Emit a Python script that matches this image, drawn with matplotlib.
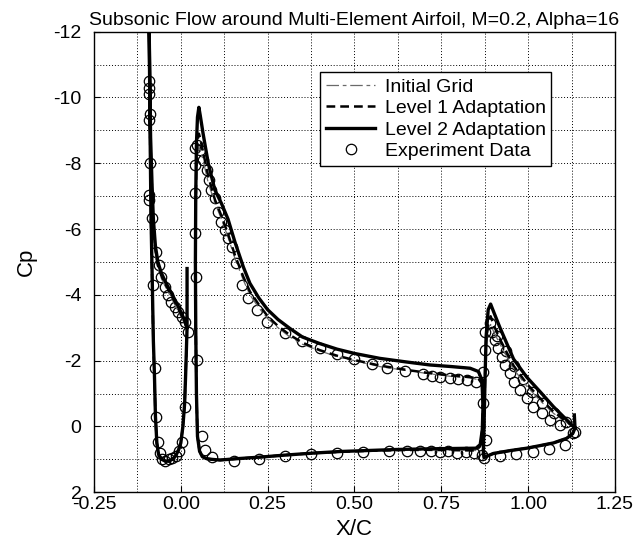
import numpy as np
import matplotlib
matplotlib.use("Agg")
import matplotlib.pyplot as plt
from matplotlib.ticker import MultipleLocator, FormatStrFormatter
from matplotlib.legend_handler import HandlerLine2D

plt.rcParams['font.family'] = 'Liberation Sans'
plt.rcParams['axes.unicode_minus'] = False

# ---- CFD results (X/C, Cp) ----
# slat
slat_x_l2 = [0.018, 0.018, 0.012, 0.002, -0.012, -0.027, -0.042, -0.056, -0.066, -0.073,
             -0.079, -0.083, -0.087, -0.089, -0.091, -0.092, -0.091, -0.089, -0.086, -0.082,
             -0.079, -0.076, -0.073, -0.069, -0.064, -0.055, -0.045, -0.035, -0.025, -0.015,
             -0.006, 0.000, 0.006, 0.011, 0.014, 0.016, 0.018]
slat_cp_l2 = [-4.8, -3.0, -3.2, -3.44, -3.75, -4.05, -4.35, -4.66, -5.0, -5.47,
              -6.3, -7.4, -8.8, -10.3, -12.0, -13.5, -12.0, -9.5, -6.5, -4.3,
              -2.6, -1.6, -0.3, 0.5, 0.85, 1.0, 1.05, 1.05, 1.0, 0.9,
              0.7, 0.5, 0.0, -0.7, -1.6, -2.3, -3.0]
slat_x_l1 = [0.018, 0.012, 0.002, -0.012, -0.027, -0.042, -0.056, -0.066, -0.073, -0.079,
             -0.083, -0.087, -0.089, -0.091, -0.092, -0.091, -0.089, -0.086, -0.082, -0.079,
             -0.076, -0.073, -0.069, -0.064, -0.055, -0.045, -0.035, -0.025, -0.015, -0.006,
             0.000, 0.006, 0.011, 0.014, 0.016, 0.018]
slat_cp_l1 = [-2.95, -3.15, -3.38, -3.68, -3.98, -4.28, -4.58, -4.9, -5.35, -6.1,
              -7.2, -8.5, -10.0, -11.8, -13.2, -11.8, -9.3, -6.3, -4.2, -2.5,
              -1.5, -0.3, 0.5, 0.85, 1.0, 1.05, 1.05, 1.0, 0.9, 0.7,
              0.5, 0.0, -0.7, -1.6, -2.3, -2.95]
slat_cp_ini = [-2.9, -3.1, -3.3, -3.6, -3.9, -4.2, -4.5, -4.8, -5.2, -5.9,
               -7.0, -8.3, -9.8, -11.5, -12.8, -11.5, -9.0, -6.1, -4.0, -2.4,
               -1.4, -0.2, 0.5, 0.85, 1.0, 1.05, 1.05, 1.0, 0.9, 0.7,
               0.5, 0.0, -0.7, -1.5, -2.2, -2.9]

# main element
main_x = [0.870, 0.867, 0.857, 0.833, 0.780, 0.717, 0.650, 0.573, 0.500, 0.450,
          0.400, 0.350, 0.314, 0.280, 0.250, 0.225, 0.199, 0.180, 0.156, 0.136,
          0.117, 0.098, 0.079, 0.064, 0.056, 0.052, 0.048, 0.045, 0.043, 0.042,
          0.043, 0.045, 0.048, 0.054, 0.062, 0.075, 0.090, 0.113, 0.160, 0.230,
          0.300, 0.380, 0.460, 0.540, 0.620, 0.710, 0.780, 0.850, 0.862, 0.868,
          0.870]
main_cp_l2 = [-0.6, -1.41, -1.67, -1.77, -1.82, -1.87, -1.96, -2.07, -2.22, -2.35,
              -2.52, -2.72, -2.98, -3.25, -3.55, -3.9, -4.35, -4.85, -5.6, -6.3,
              -6.78, -7.19, -8.0, -8.91, -9.45, -9.7, -9.4, -8.6, -7.0, -5.0,
              -3.0, -1.0, 0.3, 0.75, 0.92, 0.98, 1.0, 1.02, 0.98, 0.93,
              0.87, 0.81, 0.76, 0.73, 0.70, 0.68, 0.67, 0.66, 0.55, 0.1,
              -0.6]
main_cp_l1 = [-0.8, -1.3, -1.45, -1.5, -1.55, -1.62, -1.72, -1.85, -2.02, -2.15,
              -2.32, -2.55, -2.78, -3.05, -3.35, -3.7, -4.1, -4.55, -5.2, -5.85,
              -6.4, -6.9, -7.6, -8.35, -8.75, -8.9, -8.7, -8.1, -6.8, -5.0,
              -3.0, -1.0, 0.3, 0.75, 0.92, 0.98, 1.0, 1.02, 0.98, 0.93,
              0.87, 0.81, 0.77, 0.74, 0.72, 0.71, 0.72, 0.73, 0.6, 0.1,
              -0.8]
main_cp_ini = [-0.8, -1.3, -1.42, -1.48, -1.52, -1.6, -1.7, -1.82, -2.0, -2.12,
               -2.3, -2.5, -2.72, -3.0, -3.28, -3.6, -4.0, -4.45, -5.1, -5.75,
               -6.3, -6.8, -7.4, -8.1, -8.4, -8.5, -8.3, -7.8, -6.5, -4.8,
               -2.9, -1.0, 0.3, 0.75, 0.92, 0.98, 1.0, 1.02, 0.98, 0.93,
               0.87, 0.81, 0.77, 0.74, 0.72, 0.71, 0.72, 0.73, 0.6, 0.1,
               -0.8]

# flap
flap_x_l2 = [1.133, 1.135, 1.111, 1.073, 1.035, 0.996, 0.958, 0.919, 0.902, 0.892,
             0.885, 0.879, 0.876, 0.873, 0.871, 0.873, 0.882, 0.900, 0.950, 0.996,
             1.035, 1.073, 1.111, 1.128, 1.135]
flap_cp_l2 = [-0.35, 0.05, -0.2, -0.6, -1.05, -1.5, -2.05, -3.0, -3.45, -3.72,
              -3.55, -2.73, -1.5, 0.0, 0.75, 0.95, 0.9, 0.82, 0.73, 0.66,
              0.58, 0.5, 0.36, 0.22, 0.05]
flap_x_l1 = [1.135, 1.111, 1.073, 1.035, 0.996, 0.958, 0.919, 0.902, 0.892, 0.885,
             0.879, 0.876, 0.873, 0.871, 0.873, 0.882, 0.900, 0.950, 0.996, 1.035,
             1.073, 1.111, 1.128, 1.135]
flap_cp_l1 = [0.05, -0.15, -0.45, -0.85, -1.3, -1.85, -2.65, -3.05, -3.35, -3.2,
              -2.6, -1.5, 0.0, 0.75, 0.95, 0.9, 0.82, 0.73, 0.66, 0.58,
              0.5, 0.36, 0.22, 0.05]
flap_cp_ini = [0.05, -0.12, -0.4, -0.78, -1.22, -1.75, -2.5, -2.85, -3.1, -3.0,
               -2.5, -1.5, 0.0, 0.75, 0.95, 0.9, 0.82, 0.73, 0.66, 0.58,
               0.5, 0.36, 0.22, 0.05]

# ---- experiment ----
exp_slat_x = [-0.092, -0.092, -0.091, -0.090, -0.091, -0.090, -0.091, -0.092, -0.084, -0.080,
              -0.070, -0.063, -0.056, -0.046, -0.036, -0.027, -0.017, -0.007, 0.003, 0.012,
              0.020, -0.075, -0.070, -0.065, -0.060, -0.055, -0.045, -0.035, -0.025, -0.015,
              -0.005, 0.002, 0.012]
exp_slat_cp = [-10.5, -10.3, -10.1, -9.5, -9.3, -8.0, -7.05, -6.87, -6.33, -4.29,
               -5.3, -4.9, -4.55, -4.25, -4.0, -3.79, -3.64, -3.49, -3.34, -3.19,
               -2.88, -1.77, -0.28, 0.46, 0.8, 1.0, 1.05, 1.0, 0.95, 0.9,
               0.75, 0.46, -0.6]
exp_main_x = [0.040, 0.041, 0.041, 0.042, 0.044, 0.046, 0.060, 0.070, 0.089, 0.048,
              0.055, 0.064, 0.074, 0.081, 0.088, 0.098, 0.107, 0.117, 0.126, 0.136,
              0.146, 0.160, 0.175, 0.194, 0.218, 0.247, 0.300, 0.350, 0.400, 0.450,
              0.500, 0.550, 0.593, 0.645, 0.698, 0.722, 0.746, 0.775, 0.799, 0.823,
              0.850, 0.152, 0.226, 0.300, 0.375, 0.449, 0.525, 0.600, 0.650, 0.690,
              0.720, 0.745, 0.770, 0.795, 0.820, 0.845]
exp_main_cp = [-8.45, -7.95, -7.1, -5.87, -4.53, -2.02, 0.29, 0.73, 0.92, -8.56,
               -8.4, -8.1, -7.8, -7.49, -7.19, -6.94, -6.53, -6.22, -5.97, -5.72,
               -5.47, -4.96, -4.3, -3.9, -3.54, -3.19, -2.85, -2.6, -2.4, -2.2,
               -2.05, -1.9, -1.77, -1.7, -1.6, -1.53, -1.51, -1.46, -1.43, -1.41,
               -1.36, 1.05, 1.0, 0.9, 0.85, 0.8, 0.77, 0.76, 0.75, 0.74,
               0.76, 0.78, 0.76, 0.8, 0.78, 0.8]
exp_flap_x = [0.876, 0.876, 0.871, 0.871, 0.879, 0.868, 0.872, 0.890, 0.895, 0.905,
              0.914, 0.924, 0.933, 0.948, 0.958, 0.977, 0.996, 1.015, 1.039, 1.063,
              1.092, 1.135, 0.919, 0.966, 1.013, 1.060, 1.107, 1.130,
              0.910, 0.935, 0.960, 0.985, 1.010, 1.040, 1.075, 1.110]
exp_flap_cp = [-2.88, -2.33, -1.67, -0.71, 0.41, 0.86, 0.97, -3.14, -2.88, -2.63,
               -2.38, -2.12, -1.87, -1.62, -1.36, -1.11, -0.86, -0.6, -0.4, -0.2,
               -0.05, 0.16, 0.9, 0.85, 0.77, 0.67, 0.55, 0.2,
               -2.75, -2.3, -1.85, -1.45, -1.05, -0.7, -0.4, -0.15]


def join(*parts):
    # glue the three elements into one line, broken by NaN
    out = []
    for p in parts:
        if out:
            out.append(np.nan)
        out.extend(p)
    return np.array(out)


class MarkerRight(HandlerLine2D):
    # legend circle sits at the right end of the handle, like the original
    def get_xdata(self, legend, xdescent, ydescent, width, height, fontsize):
        xdata, _ = super().get_xdata(legend, xdescent, ydescent, width, height, fontsize)
        return xdata, np.array([-xdescent + width - 0.25 * fontsize])


fig = plt.figure(figsize=(6.38, 5.43), dpi=100)
ax = fig.add_axes([0.1473, 0.0934, 0.8166, 0.8483])

exp, = ax.plot(join(exp_slat_x, exp_main_x, exp_flap_x), join(exp_slat_cp, exp_main_cp, exp_flap_cp),
               'o', ms=7.5, mfc='none', mec='k', mew=0.9, label='Experiment Data')
ini, = ax.plot(join(slat_x_l1, main_x, flap_x_l1), join(slat_cp_ini, main_cp_ini, flap_cp_ini),
               color='#6a6a6a', lw=0.9, ls=(0, (10, 3, 3, 3)), label='Initial Grid')
lv1, = ax.plot(join(slat_x_l1, main_x, flap_x_l1), join(slat_cp_l1, main_cp_l1, flap_cp_l1),
               color='k', lw=1.8, ls=(0, (3.5, 2)), label='Level 1 Adaptation')
lv2, = ax.plot(join(slat_x_l2, main_x, flap_x_l2), join(slat_cp_l2, main_cp_l2, flap_cp_l2),
               color='k', lw=2.4, label='Level 2 Adaptation')

ax.set_xlim(-0.25, 1.25)
ax.set_ylim(2, -12)
ax.xaxis.set_major_locator(MultipleLocator(0.25))
ax.xaxis.set_minor_locator(MultipleLocator(0.125))
ax.xaxis.set_major_formatter(FormatStrFormatter('%.2f'))
ax.yaxis.set_major_locator(MultipleLocator(2))
ax.yaxis.set_minor_locator(MultipleLocator(1))
ax.grid(True, which='both', color='k', ls=(0, (1, 2)), lw=0.7)
ax.tick_params(which='major', direction='in', length=4, labelsize=14)
ax.tick_params(axis='y', pad=9)
ax.tick_params(axis='x', pad=3)
ax.tick_params(which='minor', length=0)
for s in ax.spines.values():
    s.set_linewidth(1.0)

ax.set_title('Subsonic Flow around Multi-Element Airfoil, M=0.2, Alpha=16', fontsize=14, pad=5)
ax.set_xlabel('X/C', fontsize=16, labelpad=4)
ax.set_ylabel('Cp', fontsize=16, labelpad=12)

leg = ax.legend(handles=[ini, lv1, lv2, exp], loc='upper right', bbox_to_anchor=(0.878, 0.912),
                fontsize=14, fancybox=False, edgecolor='k', framealpha=1, borderaxespad=0,
                handlelength=2.5, handletextpad=0.5, labelspacing=0.2, borderpad=0.3,
                handler_map={exp: MarkerRight(numpoints=1)})
leg.get_frame().set_linewidth(1.0)

fig.savefig('out.png', dpi=100)
